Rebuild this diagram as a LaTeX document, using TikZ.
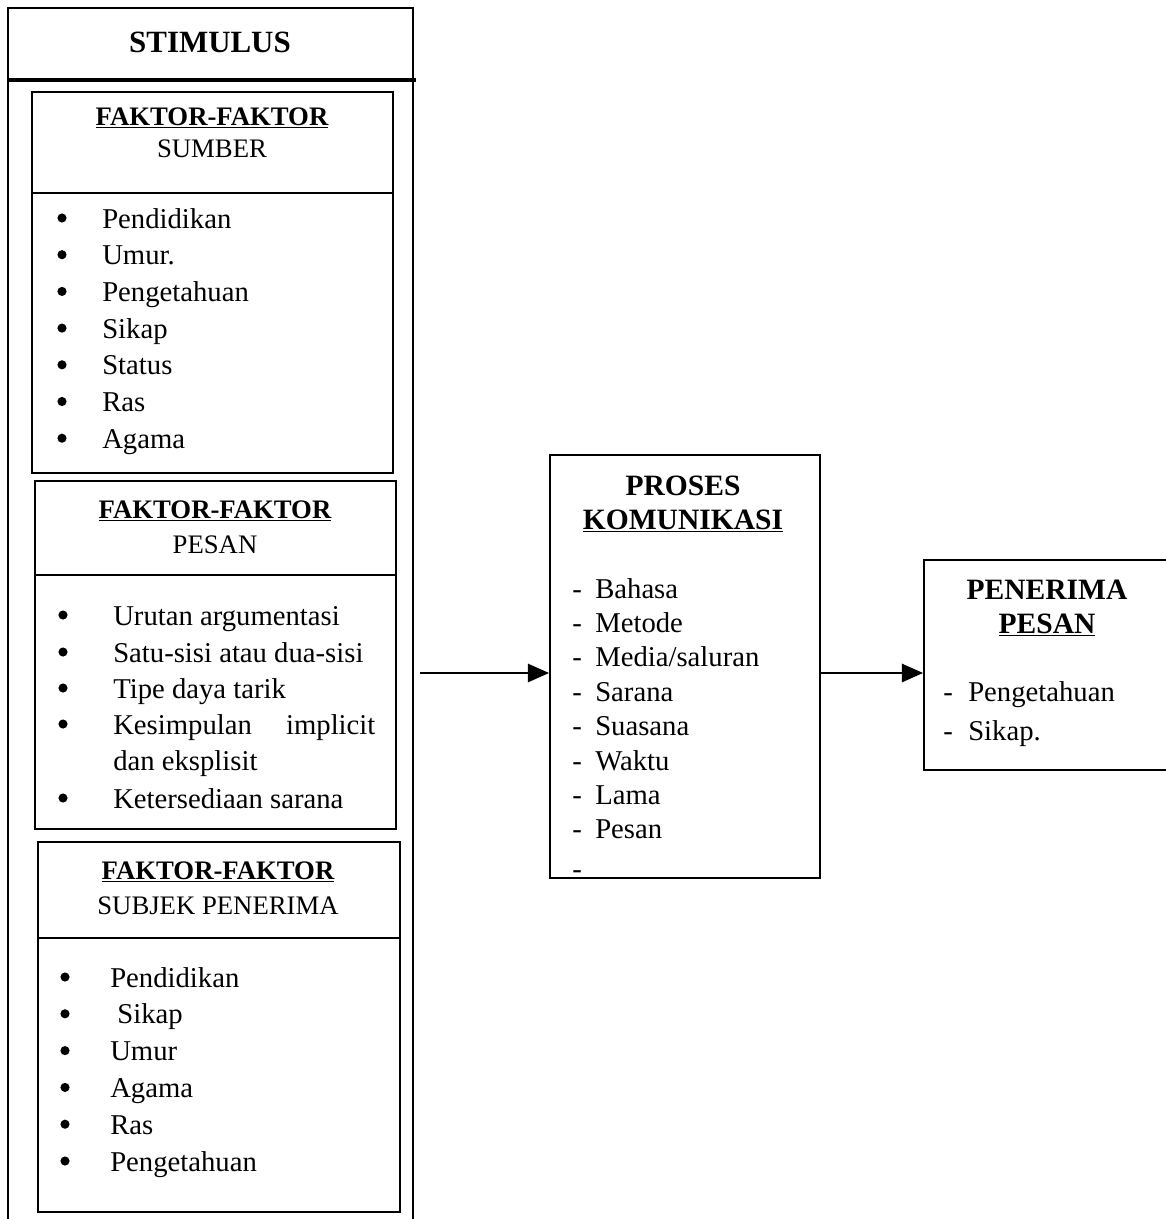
\documentclass[tikz,border=0pt]{standalone}
\usepackage{fontspec}
\setmainfont{Liberation Serif}
\usetikzlibrary{arrows.meta,positioning,fit}
\tikzset{>={Triangle[length=15pt,width=13pt]}}

\begin{document}
\begin{tikzpicture}[x=0.025cm,y=-0.025cm,
    box/.style={draw,line width=1.4pt,inner sep=0pt},
    head/.style={inner sep=0pt,font=\fontsize{19}{23}\selectfont\bfseries},
    bighead/.style={inner sep=0pt,font=\fontsize{21}{25}\selectfont\bfseries},
    sub/.style={inner sep=0pt,font=\fontsize{19}{23}\selectfont},
    item/.style={anchor=base west,inner sep=0pt,font=\fontsize{20.4}{25.6}\selectfont},
    dot/.style={circle,fill,inner sep=0pt,minimum size=6.5pt},
    arr/.style={->,line width=1.4pt}]
    \useasboundingbox (0,0) rectangle (1166,1219);
    % stimulus column
    \draw[line width=1.4pt] (8,1219) -- (8,8) -- (413,8) -- (413,1219);
    \draw[line width=2.8pt] (8,80) -- (416,80);
    \node[font=\fontsize{22}{26}\selectfont\bfseries] (stimulus) at (210,42) {STIMULUS};
    % faktor sumber
    \node[box,fit={(32,92) (393,473)}] (sumber) {};
    \draw[line width=1.4pt] (sumber.west |- 0,193) -- (sumber.east |- 0,193);
    \node[head] (sumberhd) at (212,118) {\underline{FAKTOR-FAKTOR}};
    \node[sub] (sumbersub) at (212,149) {SUMBER};
    \foreach \txt [count=\i] in {Pendidikan,Umur.,Pengetahuan,Sikap,Status,Ras,Agama}
    {\node[dot] (sbdot\i) at (62,{181.3+36.7*\i}) {};
    \node[item] (sbitem\i) at (102,{191.3+36.7*\i}) {\txt};
    }
    % faktor pesan
    \node[box,fit={(35,481) (396,829)}] (pesan) {};
    \draw[line width=1.4pt] (pesan.west |- 0,575) -- (pesan.east |- 0,575);
    \node[head] (pesanhd) at (215,511) {\underline{FAKTOR-FAKTOR}};
    \node[sub] (pesansub) at (215,545) {PESAN};
    \foreach \yy/\txt [count=\i] in {615/Urutan argumentasi,652/Satu-sisi atau dua-sisi,688/Tipe daya tarik,798/Ketersediaan sarana}
    {\node[dot] (psdot\i) at (63,\yy) {};
    \node[item] (psitem\i) at (113,\yy+10) {\txt};
    }
    \node[dot] (psdot5) at (63,724) {};
    \node[item] (psitem5) at (113,734) {\makebox[6.55cm][l]{Kesimpulan\hfill implicit}};
    \node[item] (psitem6) at (113,770) {dan eksplisit};
    % faktor subjek penerima
    \node[box,fit={(38,842) (400,1212)}] (subjek) {};
    \draw[line width=1.4pt] (subjek.west |- 0,938) -- (subjek.east |- 0,938);
    \node[head] (subjekhd) at (218,872) {\underline{FAKTOR-FAKTOR}};
    \node[sub] (subjeksub) at (218,906) {SUBJEK PENERIMA};
    \foreach \txt [count=\i] in {Pendidikan,{\ Sikap},Umur,Agama,Ras,Pengetahuan}
    {\node[dot] (sjdot\i) at (65,{940.2+36.8*\i}) {};
    \node[item] (sjitem\i) at (110,{950.2+36.8*\i}) {\txt};
    }
    % proses komunikasi
    \node[box,fit={(550,455) (820,878)}] (proses) {};
    \node[bighead] (proseshd) at (683,486) {PROSES};
    \node[bighead] (prosessub) at (683,521) {\underline{KOMUNIKASI}};
    \foreach \txt [count=\i] in {Bahasa,Metode,Media/saluran,Sarana,Suasana,Waktu,Lama,Pesan}
    {\node[item] (prdash\i) at (572,{563.6+34.4*\i}) {-};
    \node[item] (pritem\i) at (595,{563.6+34.4*\i}) {\txt};
    }
    \node[item] (prdash9) at (572,878) {-};
    % penerima pesan
    \node[box,fit={(924,560) (1190,770)}] (penerima) {};
    \node[bighead] (penerimahd) at (1047,590) {PENERIMA};
    \node[bighead] (penerimasub) at (1047,625) {\underline{PESAN}};
    \foreach \yy/\txt [count=\i] in {691/Pengetahuan,730/Sikap.}
    {\node[item] (pndash\i) at (943,\yy+10) {-};
    \node[item] (pnitem\i) at (968,\yy+10) {\txt};
    }
    % arrows
    \coordinate (stimout) at (420,673);
    \draw[arr] (stimout) -- (stimout -| proses.west);
    \draw[arr] (proses.east |- stimout) -- (penerima.west |- stimout);
\end{tikzpicture}
\end{document}
